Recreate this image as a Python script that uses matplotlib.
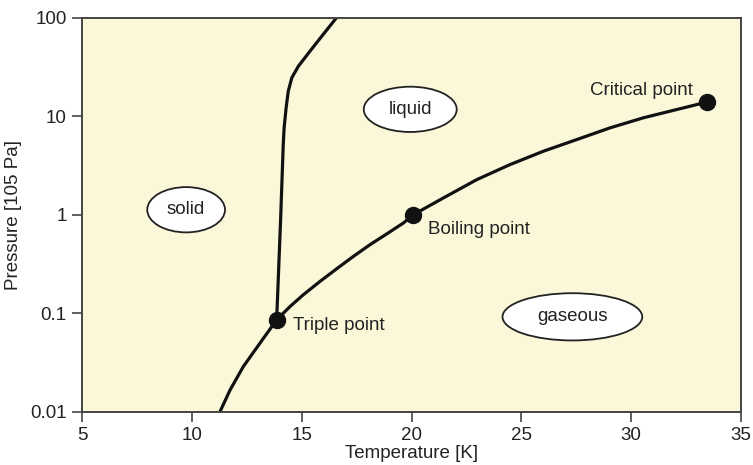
import matplotlib.pyplot as plt
from matplotlib.patches import Ellipse
from matplotlib.ticker import FixedLocator, FixedFormatter, NullLocator

plt.rcParams['font.family'] = ['Liberation Sans', 'DejaVu Sans']

# melting curve (solid / liquid)
melt_T = [13.86, 14.04, 14.16, 14.20, 14.29, 14.39, 14.55, 14.85, 15.38, 15.98, 16.59]
melt_p = [0.0858, 0.894, 5.19, 7.66, 12.2, 18.1, 24.7, 32.4, 46.1, 68.2, 101.0]

# sublimation + vapour pressure curve, from 0.01 up to the critical point
vap_T = [11.28, 11.74, 12.34, 13.10, 13.86, 14.47, 15.07, 15.83, 16.59, 17.35,
         18.11, 18.87, 19.63, 20.07, 21.45, 22.97, 24.48, 26.00, 27.52, 29.04,
         30.55, 32.07, 33.45]
vap_p = [0.01, 0.01663, 0.0287, 0.0497, 0.0858, 0.1172, 0.154, 0.2105, 0.283, 0.378,
         0.498, 0.640, 0.827, 1.0, 1.486, 2.28, 3.24, 4.43, 5.82, 7.66,
         9.68, 11.75, 14.0]

# marked points
point_names = ['Triple point', 'Boiling point', 'Critical point']
point_T = [13.86, 20.07, 33.45]
point_p = [0.0858, 1.0, 14.0]

# phase labels (axes fraction centres)
phase_names = ['solid', 'liquid', 'gaseous']
phase_xy = [(0.158, 0.513), (0.498, 0.768), (0.744, 0.241)]
phase_wh = [(0.118, 0.115), (0.141, 0.115), (0.212, 0.12)]

x_ticks = [5, 10, 15, 20, 25, 30, 35]
y_ticks = [0.01, 0.1, 1, 10, 100]
y_labels = ['0.01', '0.1', '1', '10', '100']

fig = plt.figure(figsize=(7.53, 4.65), dpi=100)
ax = fig.add_axes([0.1089, 0.1146, 0.8753, 0.8467])
ax.set_facecolor('#fbf8da')

line_kw = dict(color='#111111', lw=2.3, solid_capstyle='round', solid_joinstyle='round')
ax.plot(melt_T, melt_p, **line_kw)
ax.plot(vap_T, vap_p, **line_kw)
ax.plot(point_T, point_p, 'o', color='#111111', ms=11.5, zorder=5)

offsets = [(16, -6), (15, -15), (-14, 12)]
aligns = ['left', 'left', 'right']
for name, t, p, off, ha in zip(point_names, point_T, point_p, offsets, aligns):
    ax.annotate(name, (t, p), xytext=off, textcoords='offset pixels',
                ha=ha, va='center', fontsize=13.5, color='#222222')

for name, (cx, cy), (w, h) in zip(phase_names, phase_xy, phase_wh):
    ax.add_patch(Ellipse((cx, cy), w, h, transform=ax.transAxes,
                         facecolor='white', edgecolor='#222222', lw=1.3, zorder=4))
    ax.text(cx, cy, name, transform=ax.transAxes, ha='center', va='center',
            fontsize=13.5, color='#222222', zorder=6)

ax.set_yscale('log')
ax.set_xlim(5, 35)
ax.set_ylim(0.01, 100)
ax.xaxis.set_major_locator(FixedLocator(x_ticks))
ax.yaxis.set_major_locator(FixedLocator(y_ticks))
ax.yaxis.set_major_formatter(FixedFormatter(y_labels))
ax.yaxis.set_minor_locator(NullLocator())

for s in ax.spines.values():
    s.set_color('#444444')
    s.set_linewidth(1.4)
ax.tick_params(direction='out', length=7, width=1.2, color='#444444',
               labelsize=13.5, labelcolor='#222222', pad=4)

ax.set_xlabel('Temperature [K]', fontsize=13.5, color='#222222', labelpad=1)
ax.set_ylabel('Pressure [105 Pa]', fontsize=13.5, color='#222222', labelpad=6)

fig.savefig('out.png', dpi=100)
